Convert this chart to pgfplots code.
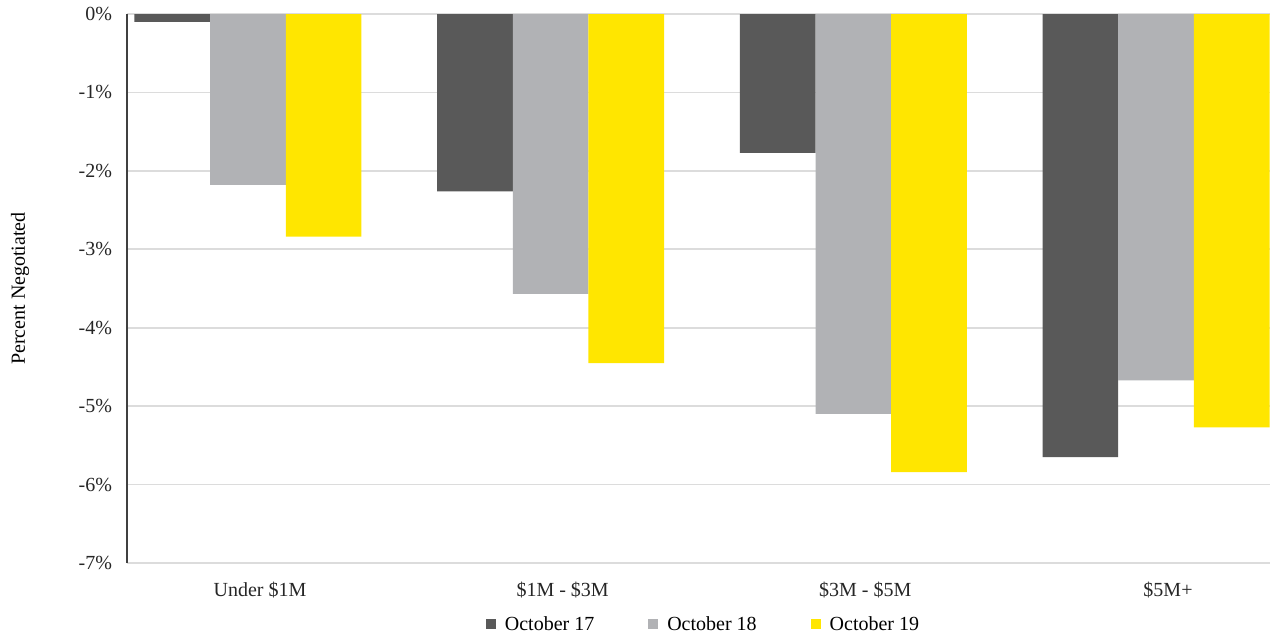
\documentclass[border=0pt]{standalone}
\usepackage{pgfplots}
\pgfplotsset{compat=1.18}
\usepackage{fontspec}
\setmainfont{Liberation Serif}
\definecolor{cdark}{HTML}{595959}
\definecolor{clight}{HTML}{B1B2B5}
\definecolor{cyel}{HTML}{FFE600}
\definecolor{cgrid}{HTML}{DCDCDC}
\definecolor{caxis}{HTML}{404040}
\begin{document}
\begin{tikzpicture}
\begin{axis}[
  name=ax,
  scale only axis,
  width=571.5pt, height=274.5pt,
  xmin=-0.3997, xmax=3.3766,
  ymin=-7, ymax=0,
  ybar=0pt, bar width=0.25,
  xtick={0,1,2,3},
  xticklabels={Under \$1M, \$1M - \$3M, \$3M - \$5M, \$5M+},
  ytick={-7,-6,-5,-4,-3,-2,-1,0},
  yticklabel={\pgfmathprintnumber{\tick}\%},
  /pgf/number format/assume math mode=true,
  major tick length=0pt,
  tick label style={font=\fontsize{10}{12}\selectfont, text=black!85},
  xticklabel style={yshift=-6pt, xshift=6pt},
  yticklabel style={xshift=-4pt},
  ymajorgrids, grid style={cgrid, line width=0.8pt},
  axis x line=bottom, axis y line=left,
  x axis line style={draw=cgrid, line width=0.8pt, -},
  y axis line style={draw=caxis, line width=0.7pt, -},
  ylabel={Percent Negotiated},
  every axis y label/.style={at={(axis description cs:0,0.5)}, xshift=-53.5pt, rotate=90, anchor=center, font=\fontsize{10}{12}\selectfont},
  legend columns=3,
  legend style={at={(0.5,0)}, anchor=center, yshift=-31pt, xshift=3pt, draw=none, fill=none,
    font=\fontsize{10}{12}\selectfont,
    /tikz/every even column/.append style={column sep=25pt},
    /tikz/every odd column/.append style={column sep=2.5pt}},
  legend image code/.code={\fill[#1] (0pt,-2pt) rectangle (5pt,3pt);},
]
\addplot[fill=cdark, draw=none] coordinates {(0,-0.10) (1,-2.26) (2,-1.77) (3,-5.65)};
\addplot[fill=clight, draw=none] coordinates {(0,-2.18) (1,-3.57) (2,-5.10) (3,-4.67)};
\addplot[fill=cyel, draw=none] coordinates {(0,-2.84) (1,-4.45) (2,-5.84) (3,-5.27)};
\legend{October 17, October 18, October 19}
\end{axis}
\pgfresetboundingbox
\path (ax.south west) ++(-63.5pt,-34.5pt) rectangle ++(636pt,316pt);
\end{tikzpicture}
\end{document}
